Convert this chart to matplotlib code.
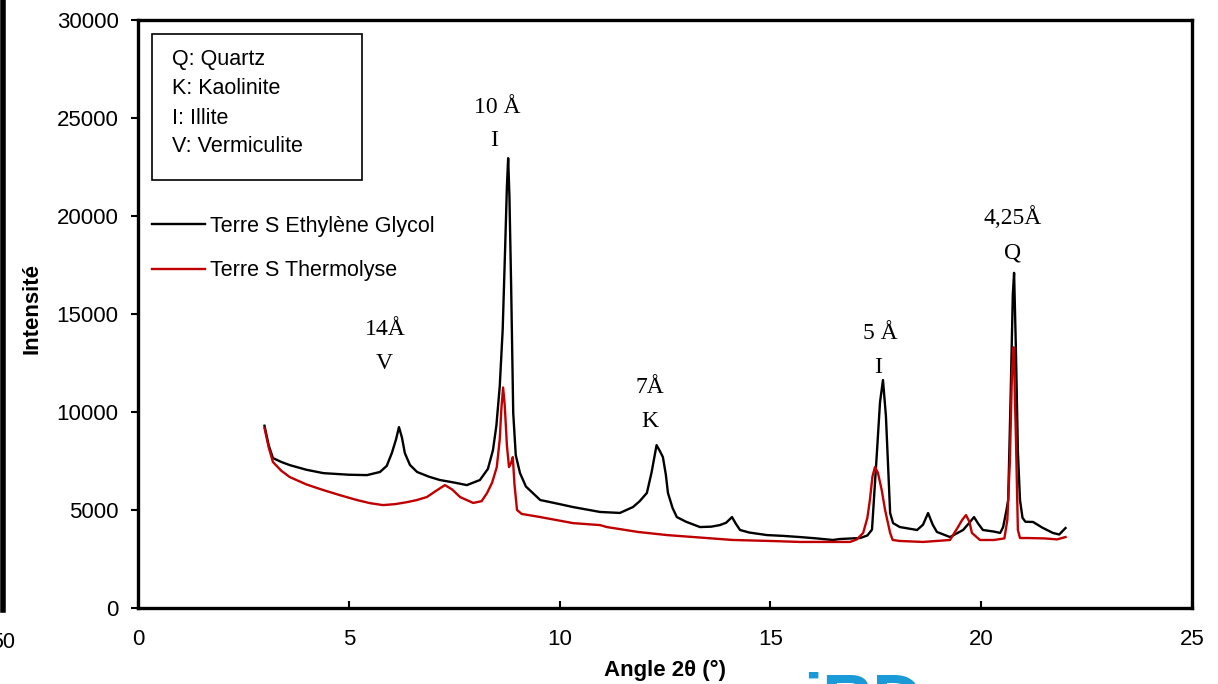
import matplotlib
matplotlib.use("Agg")
import matplotlib.pyplot as plt
from matplotlib.patches import Rectangle

# Terre S Ethylene Glycol (black)
x_eg = [3.0, 3.1, 3.2, 3.4, 3.6, 4.0, 4.4, 5.0, 5.43, 5.74, 5.9, 6.02, 6.12, 6.19, 6.26, 6.33,
        6.45, 6.62, 6.9, 7.16, 7.5, 7.8, 8.11, 8.3, 8.42, 8.5, 8.58, 8.65, 8.71, 8.75, 8.78,
        8.81, 8.85, 8.9, 8.96, 9.06, 9.2, 9.54, 10.0, 10.32, 10.96, 11.43, 11.74, 11.9, 12.07,
        12.18, 12.3, 12.38, 12.45, 12.52, 12.57, 12.68, 12.78, 13.0, 13.33, 13.6, 13.8, 13.95,
        14.09, 14.18, 14.28, 14.5, 14.92, 15.3, 15.7, 16.1, 16.48, 16.65, 17.13, 17.3, 17.41,
        17.53, 17.6, 17.67, 17.74, 17.84, 17.91, 18.07, 18.48, 18.62, 18.74, 18.85, 18.95,
        19.26, 19.57, 19.7, 19.83, 19.93, 20.04, 20.3, 20.45, 20.52, 20.6, 20.64, 20.7, 20.75,
        20.78, 20.82, 20.87, 20.92, 20.98, 21.05, 21.23, 21.45, 21.7, 21.85, 22.0]
y_eg = [9300, 8300, 7650, 7450, 7290, 7050, 6880, 6800, 6780, 6940, 7250, 7900, 8600, 9230, 8700, 7900,
        7300, 6940, 6700, 6530, 6400, 6270, 6530, 7100, 8060, 9300, 11300, 14200, 18500, 21500, 22950,
        21000, 16500, 9950, 7800, 6890, 6200, 5510, 5300, 5150, 4900, 4850, 5150, 5450, 5870,
        6900, 8310, 8000, 7700, 6800, 5870, 5100, 4640, 4400, 4130, 4150, 4230, 4350,
        4640, 4300, 3980, 3850, 3720, 3680, 3620, 3550, 3470, 3520, 3570, 3700, 4000,
        8060, 10500, 11630, 9800, 4845, 4330, 4130, 3980, 4250, 4845, 4250, 3880,
        3620, 3980, 4300, 4640, 4300, 3980, 3900, 3830, 4130, 5000, 5510, 11000, 16000,
        17100, 13500, 8000, 5510, 4600, 4400, 4390, 4100, 3830, 3750, 4080]

# Terre S Thermolyse (red)
x_th = [3.0, 3.1, 3.2, 3.4, 3.6, 4.0, 4.39, 4.8, 5.19, 5.5, 5.81, 6.1, 6.38, 6.6, 6.85, 7.05,
        7.28, 7.45, 7.64, 7.95, 8.15, 8.28, 8.4, 8.51, 8.58, 8.62, 8.66, 8.7, 8.75, 8.8, 8.85,
        8.89, 8.93, 8.99, 9.1, 9.54, 10.32, 10.96, 11.12, 11.86, 12.55, 13.3, 14.11, 15.0,
        15.7, 16.3, 16.89, 17.05, 17.2, 17.3, 17.36, 17.42, 17.48, 17.55, 17.64, 17.72, 17.84,
        17.9, 18.07, 18.62, 19.26, 19.45, 19.55, 19.64, 19.72, 19.78, 19.97, 20.3, 20.55,
        20.62, 20.68, 20.73, 20.77, 20.82, 20.87, 20.92, 21.1, 21.5, 21.8, 22.0]
y_th = [9180, 8200, 7450, 7000, 6680, 6300, 6020, 5750, 5510, 5350, 5250, 5300, 5400, 5500, 5660, 5950,
        6270, 6050, 5660, 5360, 5450, 5870, 6400, 7190, 8600, 10200, 11250, 10300, 8300, 7190, 7400,
        7700, 6300, 5000, 4800, 4640, 4330, 4230, 4130, 3880, 3720, 3600, 3470, 3420,
        3370, 3370, 3370, 3500, 3830, 4600, 5510, 6700, 7190, 6900, 6020, 5000, 3830,
        3470, 3420, 3370, 3470, 4130, 4500, 4740, 4400, 3830, 3470, 3470, 3550,
        4500, 7500, 12000, 13300, 9000, 3980, 3570, 3570, 3550, 3500, 3620]

# peak annotations: (x, y, text)
peak_labels = [(5.86, 14200, "14Å"), (5.83, 12450, "V"),
               (8.52, 25550, "10 Å"), (8.44, 23850, "I"),
               (12.14, 11250, "7Å"), (12.14, 9500, "K"),
               (17.6, 14000, "5 Å"), (17.55, 12250, "I"),
               (20.75, 19900, "4,25Å"), (20.75, 18100, "Q")]

mineral_key = ["Q: Quartz", "K: Kaolinite", "I: Illite", "V: Vermiculite"]

plt.rcParams['font.family'] = ['Liberation Sans', 'DejaVu Sans']

fig = plt.figure(figsize=(12.18, 6.84), dpi=100)
ax = fig.add_axes([138 / 1218, 76 / 684, 1054 / 1218, 588 / 684])

ax.plot(x_eg, y_eg, color='black', lw=1.7, label='Terre S Ethylène Glycol')
ax.plot(x_th, y_th, color='#c00000', lw=1.7, label='Terre S Thermolyse')

ax.set_xlim(0, 25)
ax.set_ylim(0, 30000)
ax.set_xticks([0, 5, 10, 15, 20, 25])
ax.set_yticks([0, 5000, 10000, 15000, 20000, 25000, 30000])
ax.tick_params(axis='x', direction='in', length=5, width=1.5, labelsize=16, pad=15)
ax.tick_params(axis='y', direction='out', length=5, width=1.5, labelsize=16, pad=9)
for sp in ax.spines.values():
    sp.set_linewidth(2.4)

ax.set_xlabel("Angle 2θ (°)", fontsize=16, fontweight='bold', labelpad=7)
ax.set_ylabel("Intensité", fontsize=16, fontweight='bold')
ax.yaxis.set_label_coords(-0.091, 0.51)

for px, py, t in peak_labels:
    ax.text(px, py, t, ha='center', va='center', fontsize=17,
            family=['Liberation Serif', 'DejaVu Serif'])

ax.add_patch(Rectangle((14 / 1054, 428 / 588), 210 / 1054, 146 / 588, transform=ax.transAxes,
                       fill=False, ec='black', lw=1.2))
for i, t in enumerate(mineral_key):
    ax.text(34 / 1054, (548 - i * 29) / 588, t, transform=ax.transAxes, fontsize=15.5,
            ha='left', va='center')

ax.legend(loc='upper left', bbox_to_anchor=(14 / 1054, 0.667), frameon=False, fontsize=15.5,
          handlelength=2.45, handletextpad=0.25, labelspacing=1.08,
          borderpad=0, borderaxespad=0)

# cropped edge artifacts from the source figure
fig.add_artist(plt.Line2D([3 / 1218, 3 / 1218], [74 / 684, 1.0], color='black', lw=4))
fig.text(-9 / 1218, 42 / 684, "50", fontsize=15.5, ha='left', va='center')
fig.text(803 / 1218, -38 / 684, "iRD", fontsize=50, fontweight='bold', color='#1a9ad6',
         ha='left', va='baseline')

fig.savefig("out.png", dpi=100)
